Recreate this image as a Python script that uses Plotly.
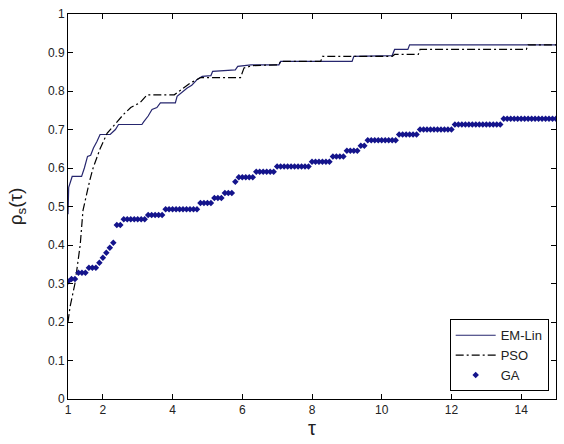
import plotly.graph_objects as go

# EM-Lin performance profile
em_tau = [1.0, 1.02, 1.12, 1.39, 1.47, 1.56, 1.65, 1.73, 1.83, 1.92, 2.21, 2.3, 2.36, 2.45,
          3.12, 3.17, 3.3, 3.41, 3.55, 3.65, 4.08, 4.13, 4.25, 4.42, 4.55, 4.71, 4.85, 5.1,
          5.15, 5.8, 5.87, 6.25, 7.05, 7.1, 9.15, 9.2, 10.3, 10.37, 10.75, 10.8, 15.0]
em_rho = [0.48, 0.55, 0.578, 0.578, 0.60, 0.63, 0.633, 0.652, 0.669, 0.687, 0.687, 0.695, 0.70, 0.713,
          0.713, 0.72, 0.735, 0.752, 0.757, 0.769, 0.769, 0.786, 0.795, 0.808, 0.815, 0.83, 0.838, 0.84,
          0.851, 0.855, 0.864, 0.868, 0.868, 0.877, 0.877, 0.89, 0.892, 0.908, 0.908, 0.92, 0.92]

# PSO performance profile
pso_tau = [1.0, 1.03, 1.06, 1.2, 1.35, 1.43, 1.55, 1.63, 1.72, 1.92, 2.12, 2.35, 2.6, 2.8, 3.07,
           3.27, 4.05, 4.2, 4.5, 4.8, 5.95, 6.05, 6.3, 7.05, 7.1, 8.25, 8.3, 10.3, 10.37, 11.05,
           11.1, 14.15, 14.2, 15.0]
pso_rho = [0.20, 0.22, 0.24, 0.30, 0.40, 0.49, 0.54, 0.57, 0.60, 0.65, 0.69, 0.713, 0.74, 0.757, 0.77,
           0.79, 0.79, 0.80, 0.82, 0.835, 0.835, 0.86, 0.866, 0.868, 0.877, 0.877, 0.89, 0.89, 0.895, 0.895,
           0.908, 0.908, 0.92, 0.92]

# GA performance profile (sampled points)
ga_tau = [round(1.0 + 0.1 * i, 1) for i in range(141)]
ga_rho = [
    0.305, 0.312, 0.312, 0.328, 0.328, 0.328, 0.341, 0.341, 0.341, 0.354,  # 1.0-1.9
    0.367, 0.380, 0.393, 0.406, 0.452, 0.452, 0.467, 0.467, 0.467, 0.467,  # 2.0-2.9
    0.467, 0.467, 0.467, 0.478, 0.478, 0.478, 0.478, 0.478, 0.493, 0.493,  # 3.0-3.9
    0.493, 0.493, 0.493, 0.493, 0.493, 0.493, 0.493, 0.493, 0.509, 0.509,  # 4.0-4.9
    0.509, 0.509, 0.522, 0.522, 0.522, 0.535, 0.535, 0.535, 0.564, 0.576,  # 5.0-5.9
    0.576, 0.576, 0.576, 0.576, 0.590, 0.590, 0.590, 0.590, 0.590, 0.590,  # 6.0-6.9
    0.604, 0.604, 0.604, 0.604, 0.604, 0.604, 0.604, 0.604, 0.604, 0.604,  # 7.0-7.9
    0.616, 0.616, 0.616, 0.616, 0.616, 0.616, 0.630, 0.630, 0.630, 0.630,  # 8.0-8.9
    0.645, 0.645, 0.645, 0.645, 0.658, 0.658, 0.672, 0.672, 0.672, 0.672,  # 9.0-9.9
    0.672, 0.672, 0.672, 0.672, 0.672, 0.687, 0.687, 0.687, 0.687, 0.687,  # 10.0-10.9
    0.687, 0.700, 0.700, 0.700, 0.700, 0.700, 0.700, 0.700, 0.700, 0.700,  # 11.0-11.9
    0.700, 0.713, 0.713, 0.713, 0.713, 0.713, 0.713, 0.713, 0.713, 0.713,  # 12.0-12.9
    0.713, 0.713, 0.713, 0.713, 0.713, 0.728, 0.728, 0.728, 0.728, 0.728,  # 13.0-13.9
    0.728, 0.728, 0.728, 0.728, 0.728, 0.728, 0.728, 0.728, 0.728, 0.728,  # 14.0-14.9
    0.728,                                                                  # 15.0
]

x_ticks = [1, 2, 4, 6, 8, 10, 12, 14]
y_ticks = [0, 0.1, 0.2, 0.3, 0.4, 0.5, 0.6, 0.7, 0.8, 0.9, 1]
y_tick_text = ["0", "0.1", "0.2", "0.3", "0.4", "0.5", "0.6", "0.7", "0.8", "0.9", "1"]

fig = go.Figure()
fig.add_trace(go.Scatter(x=em_tau, y=em_rho, mode="lines", name="EM-Lin",
                         line=dict(color="#26266e", width=1.2)))
fig.add_trace(go.Scatter(x=pso_tau, y=pso_rho, mode="lines", name="PSO",
                         line=dict(color="black", width=1.2, dash="8px,3px,2px,3px")))
fig.add_trace(go.Scatter(x=ga_tau, y=ga_rho, mode="markers", name="GA",
                         marker=dict(color="#14148c", size=5, symbol="diamond")))

font = "Liberation Sans, Arial, sans-serif"
fig.update_layout(
    width=564, height=444,
    margin=dict(l=68, r=8, t=14, b=45),
    paper_bgcolor="white", plot_bgcolor="white",
    font=dict(family=font, size=12, color="#222"),
    showlegend=True,
    legend=dict(x=0.985, y=0.02, xanchor="right", yanchor="bottom",
                bordercolor="black", borderwidth=1, bgcolor="white",
                font=dict(size=13, color="#222"), tracegroupgap=0,
                itemwidth=40),
)
fig.update_xaxes(range=[1, 15], tickvals=x_ticks, ticks="inside", ticklen=5,
                 showline=True, linecolor="black", linewidth=1, mirror="ticks",
                 showgrid=False, zeroline=False, tickcolor="black",
                 title=dict(text="τ", font=dict(size=20), standoff=2))
fig.update_yaxes(range=[0, 1], tickvals=y_ticks, ticktext=y_tick_text, ticks="inside", ticklen=5,
                 showline=True, linecolor="black", linewidth=1, mirror="ticks",
                 showgrid=False, zeroline=False, tickcolor="black",
                 title=dict(text="ρ<sub>s</sub>(τ)", font=dict(size=19), standoff=20))

fig.write_html("out.html")
